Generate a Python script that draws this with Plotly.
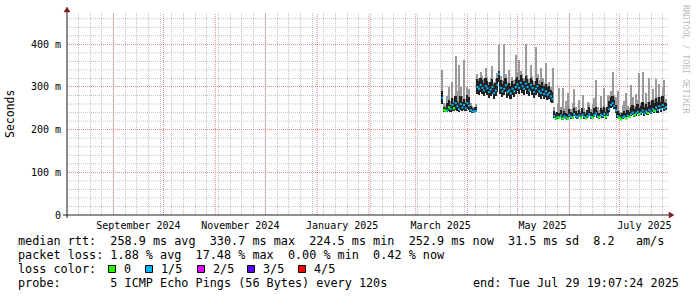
import plotly.graph_objects as go
import pandas as pd

# ---------------- data ----------------
first_day = "2025-03-17"          # first day with measurements (daily values)

median_ms = [
    274, 246, 244, 245, 252, 248, 258, 250, 262, 255, 248, 260, 252, 258, 250, 262, 256, 246, 243, 242, 244,
    300, 296, 305, 298, 292, 302, 297, 288, 294, 300, 286, 292, 305, 330.7, 298, 290, 296, 304, 288, 292, 285,
    296, 290, 300, 306, 298, 310, 302, 296, 308, 300, 292, 305, 298, 288, 296, 302, 290, 286, 294, 284, 290,
    282, 286, 278, 272,
    232, 226, 230, 228, 233, 226, 231, 229, 226, 234, 230, 228, 236, 231, 229, 233, 228, 235, 230, 227, 232,
    236, 230, 228, 234, 238, 231, 229, 235, 232, 237, 230, 236, 248, 258, 262, 255, 245, 232, 228, 224.5, 229,
    231, 227, 233, 230, 236, 240, 234, 238, 242, 236, 240, 245, 238, 243, 239, 246, 241, 248, 244, 252, 246,
    255, 248, 258, 250, 252.9,
]
low_ms = [
    260, 242, 241, 241, 244, 242, 244, 243, 246, 244, 242, 246, 244, 245, 243, 248, 246, 242, 240, 240, 241,
    284, 282, 288, 284, 278, 286, 282, 274, 280, 284, 272, 278, 288, 312, 284, 276, 282, 288, 274, 278, 272,
    282, 276, 284, 290, 284, 294, 286, 282, 292, 284, 278, 290, 282, 274, 282, 286, 276, 272, 280, 271, 276,
    269, 273, 266, 262,
    228, 223, 226, 225, 229, 223, 227, 226, 223, 230, 226, 225, 232, 227, 226, 229, 225, 231, 226, 224, 228,
    232, 226, 225, 230, 234, 227, 226, 231, 228, 233, 226, 232, 242, 250, 254, 248, 240, 228, 225, 222, 226,
    227, 224, 229, 227, 232, 235, 230, 233, 237, 231, 235, 239, 233, 237, 234, 240, 236, 242, 238, 245, 240,
    248, 242, 250, 244, 247,
]
dark_high_ms = [
    290, 252, 250, 262, 270, 258, 275, 262, 280, 268, 262, 278, 265, 272, 262, 282, 276, 256, 250, 248, 252,
    318, 314, 322, 316, 310, 320, 314, 305, 312, 318, 304, 310, 322, 338, 316, 308, 314, 322, 305, 310, 302,
    314, 308, 318, 324, 316, 328, 320, 314, 326, 318, 310, 322, 316, 305, 314, 320, 308, 304, 312, 302, 307,
    299, 303, 294, 288,
    244, 236, 242, 238, 246, 236, 244, 240, 236, 248, 242, 238, 250, 244, 240, 246, 238, 250, 242, 236, 246,
    252, 242, 238, 250, 254, 244, 240, 250, 246, 254, 242, 252, 268, 276, 278, 270, 258, 244, 238, 234, 240,
    244, 238, 246, 242, 252, 258, 248, 254, 260, 250, 256, 264, 252, 260, 254, 266, 258, 270, 262, 274, 264,
    276, 266, 278, 264, 262,
]
high_ms = [
    341, 262, 258, 280, 300, 268, 312, 275, 372, 290, 351, 300, 280, 363, 272, 300, 296, 262, 256, 254, 260,
    330, 322, 336, 326, 318, 345, 324, 312, 320, 350, 312, 318, 332, 398, 326, 316, 400, 330, 312, 340, 310,
    324, 316, 375, 334, 363, 338, 330, 322, 400, 328, 318, 352, 326, 314, 394, 330, 316, 345, 320, 310, 356,
    306, 312, 300, 344,
    252, 242, 262, 298, 254, 298, 250, 268, 286, 256, 248, 262, 296, 252, 246, 270, 244, 281, 250, 242, 266,
    262, 248, 260, 274, 316, 252, 246, 280, 254, 298, 250, 282, 280, 290, 335, 282, 276, 290, 246, 242, 258,
    268, 285, 256, 250, 305, 276, 256, 284, 270, 333, 262, 335, 262, 286, 264, 321, 268, 296, 272, 318, 276,
    306, 276, 300, 316, 272,
]
# loss class of the median line: 0 = no loss, 1 = 1/5
loss_class = [
    1, 0, 0, 1, 0, 1, 1, 0, 1, 1, 1, 1, 1, 1, 1, 1, 1, 1, 1, 1, 1,
    1, 1, 1, 1, 1, 1, 1, 1, 1, 1, 1, 1, 1, 1, 1, 1, 1, 1, 1, 1, 1,
    1, 1, 1, 1, 1, 1, 1, 1, 1, 1, 1, 1, 1, 1, 1, 1, 1, 1, 1, 1, 1,
    1, 1, 1, 1,
    1, 0, 1, 0, 1, 0, 1, 1, 0, 1, 1, 0, 1, 1, 1, 1, 0, 1, 1, 0, 1,
    1, 1, 0, 1, 1, 1, 0, 1, 1, 1, 0, 1, 1, 1, 1, 1, 1, 1, 0, 0, 1,
    1, 0, 1, 0, 1, 1, 0, 1, 1, 0, 1, 1, 1, 1, 0, 1, 1, 1, 0, 1, 1,
    1, 1, 1, 1, 1,
]

month_starts = ["2024-09-01", "2024-10-01", "2024-11-01", "2024-12-01", "2025-01-01", "2025-02-01",
                "2025-03-01", "2025-04-01", "2025-05-01", "2025-06-01", "2025-07-01"]
month_label_dates = ["2024-09-16", "2024-11-16", "2025-01-16", "2025-03-16", "2025-05-16", "2025-07-16"]
month_labels = ["September 2024", "November 2024", "January 2025", "March 2025", "May 2025", "July 2025"]
y_tickvals = [0, 100, 200, 300, 400]
y_ticktext = ["0", "100 m", "200 m", "300 m", "400 m"]
y_minor_step = 20
x_range = ["2024-08-04 05:00", "2025-07-30 03:00"]
y_range = [0, 473.4]

rtt_stats = ["258.9 ms avg", "330.7 ms max", "224.5 ms min", "252.9 ms now", "31.5 ms sd", "8.2   am/s"]
loss_stats = ["1.88 % avg", "17.48 % max", "0.00 % min", "0.42 % now"]
loss_names = ["0", "1/5", "2/5", "3/5", "4/5"]
loss_colors = ["#26ff00", "#00b8ff", "#dd00ff", "#5e00ff", "#ff0000"]
probe_text = "5 ICMP Echo Pings (56 Bytes) every 120s"
end_text = "end: Tue Jul 29 19:07:24 2025"

assert len(median_ms) == len(low_ms) == len(dark_high_ms) == len(high_ms) == len(loss_class)

# ---------------- figure ----------------
W, H = 697, 297
L, R, T, B = 67, 668, 13, 215
MONO = "DejaVu Sans Mono"


def px(x):
    return (x - L) / (R - L)


def py(y):
    return (B - y) / (B - T)


def nb(s):
    return s.replace(" ", "\u00a0")


days = pd.date_range(first_day, periods=len(median_ms), freq="D")
DAY = 86400000

fig = go.Figure()
fig.add_trace(go.Bar(x=days, y=[h - l for h, l in zip(high_ms, low_ms)], base=low_ms, width=0.65 * DAY,
                     marker=dict(color="#9a9a9a", line=dict(width=0)), hoverinfo="skip"))
fig.add_trace(go.Bar(x=days, y=[d - l for d, l in zip(dark_high_ms, low_ms)], base=low_ms, width=DAY,
                     marker=dict(color="#222222", line=dict(width=0)), hoverinfo="skip"))
fig.add_trace(go.Scatter(x=days, y=median_ms, mode="markers",
                         marker=dict(symbol="square", size=2, color=loss_colors[1], line=dict(width=0))))
g_x = [d for d, c in zip(days, loss_class) if c == 0]
g_y = [m for m, c in zip(median_ms, loss_class) if c == 0]
fig.add_trace(go.Scatter(x=g_x, y=g_y, mode="markers",
                         marker=dict(symbol="square", size=2.4, color=loss_colors[0], line=dict(width=0))))

grid_gray = "#c4c4c4"
grid_red = "#e58585"
y_minor_vals = [v for v in range(0, int(y_range[1]) + 1, y_minor_step) if v not in y_tickvals]

fig.update_layout(
    width=W, height=H, margin=dict(l=L, r=W - R, t=T, b=H - B, pad=0),
    paper_bgcolor="white", plot_bgcolor="white", showlegend=False, barmode="overlay", bargap=0,
    font=dict(family=MONO, color="black", size=10),
    xaxis=dict(type="date", range=x_range, tickvals=month_label_dates, ticktext=month_labels, ticks="",
               showgrid=False, zeroline=False, showline=False,
               tickfont=dict(family=MONO, size=10, color="black"), ticklabelstandoff=3,
               minor=dict(dtick=7 * DAY, tick0="2024-08-04", showgrid=True, gridcolor=grid_gray,
                          griddash="1px,1px", gridwidth=1, ticks="")),
    yaxis=dict(range=y_range, tickvals=y_tickvals, ticktext=y_ticktext, ticks="", showgrid=True,
               gridcolor=grid_red, griddash="1px,1px", gridwidth=1,
               zeroline=False, showline=False,
               tickfont=dict(family=MONO, size=10, color="black"), ticklabelstandoff=5),
)

shapes = []
# minor (gray, dotted) horizontal grid lines, below the axis grid
for v in y_minor_vals:
    shapes.append(dict(type="line", xref="paper", yref="y", x0=0, x1=1, y0=v, y1=v,
                       line=dict(color=grid_gray, width=1, dash="1px,1px"), layer="below"))
# major (red, dotted) month grid lines placed through the x axis scale
for m in month_starts:
    shapes.append(dict(type="line", xref="x", yref="paper", x0=m, x1=m, y0=0, y1=1,
                       line=dict(color=grid_red, width=1, dash="1px,1px"), layer="between"))

axis_col = "rgb(31,31,31)"
arrow_col = "rgb(128,31,31)"
shapes.append(dict(type="line", xref="paper", yref="paper", x0=px(63), x1=px(670), y0=py(215), y1=py(215),
                   line=dict(color=axis_col, width=1), layer="above"))
shapes.append(dict(type="line", xref="paper", yref="paper", x0=px(67), x1=px(67), y0=py(218), y1=py(10),
                   line=dict(color=axis_col, width=1), layer="above"))
shapes.append(dict(type="path", xref="paper", yref="paper",
                   path=f"M {px(669)} {py(212)} L {px(674)} {py(215)} L {px(669)} {py(218)} Z",
                   fillcolor=arrow_col, line=dict(color=arrow_col, width=0.5), layer="above"))
shapes.append(dict(type="path", xref="paper", yref="paper",
                   path=f"M {px(64)} {py(12)} L {px(67)} {py(7)} L {px(70)} {py(12)} Z",
                   fillcolor=arrow_col, line=dict(color=arrow_col, width=0.5), layer="above"))

ann = []
LEG = 11.8


def text(x, y, s, size=LEG, anchor="left", color="black", angle=0):
    ann.append(dict(xref="paper", yref="paper", x=px(x), y=py(y), text=nb(s), showarrow=False,
                    xanchor=anchor, yanchor="middle", textangle=angle,
                    font=dict(family=MONO, size=size, color=color)))


line1 = "median rtt:  " + "  ".join(rtt_stats)
line2 = "packet loss: " + "  ".join(loss_stats)
text(16, 241, line1)
text(16, 255, line2)
text(16, 269, "loss color:")
box_x = [108, 145, 197, 247, 298]
for bx, name, col in zip(box_x, loss_names, loss_colors):
    shapes.append(dict(type="rect", xref="paper", yref="paper", x0=px(bx + 0.5), x1=px(bx + 7.5),
                       y0=py(272.5), y1=py(265.5), fillcolor=col, line=dict(color="black", width=1),
                       layer="above"))
    text(bx + 14, 269, name)
text(16, 283, "probe:       " + probe_text)
text(681, 283, end_text, anchor="right")
text(10, 114, "Seconds", size=11.5, anchor="center", angle=-90)
text(686, 59, "RRDTOOL / TOBI OETIKER", size=8.2, anchor="center", color="rgba(0,0,0,0.3)", angle=90)

fig.update_layout(shapes=shapes, annotations=ann)
fig.write_html("out.html", config={"displayModeBar": False})
